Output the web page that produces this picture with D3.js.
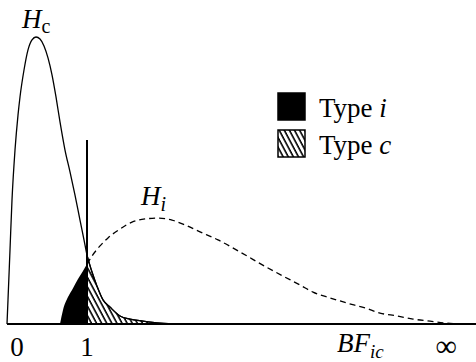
<!DOCTYPE html>
<html>
<head>
<meta charset="utf-8">
<script src="https://cdn.jsdelivr.net/npm/d3@7"></script>
<style>
  body { margin: 0; background: #fff; }
  text { font-family: "Liberation Serif", "Times New Roman", serif; fill: #000; }
</style>
</head>
<body>
<div id="chart"></div>
<script>
// densities, x in BF units, y relative to H_c peak
let hcX = [0, 0.0125, 0.0375, 0.0625, 0.1, 0.1375, 0.1625, 0.2125, 0.2625, 0.3125, 0.3625, 0.4125, 0.4625, 0.5125, 0.5625, 0.6125, 0.6625, 0.725, 0.7875, 0.85, 0.9125, 0.9625, 1.0, 1.0625, 1.125, 1.2, 1.2875, 1.4125, 1.5375, 1.7, 1.9125, 2.1625];
let hcY = [0, 0.084, 0.258, 0.432, 0.606, 0.728, 0.791, 0.885, 0.955, 0.99, 1.0, 0.993, 0.969, 0.927, 0.868, 0.791, 0.704, 0.606, 0.53, 0.449, 0.362, 0.293, 0.24, 0.181, 0.132, 0.084, 0.059, 0.028, 0.017, 0.01, 0.003, 0];

let hiX = [0.6625, 0.7, 0.7625, 0.825, 0.8875, 0.95, 1.0, 1.0625, 1.1625, 1.2625, 1.4125, 1.5625, 1.725, 1.8875, 2.0625, 2.225, 2.4125, 2.6375, 2.9125, 3.2625, 3.45, 3.6625, 3.825, 4.0375, 4.25, 4.475, 4.6625, 4.875, 5.075, 5.2875, 5.5, 5.75];
let hiY = [0, 0.049, 0.094, 0.125, 0.157, 0.185, 0.209, 0.237, 0.272, 0.3, 0.331, 0.355, 0.366, 0.369, 0.362, 0.345, 0.321, 0.293, 0.251, 0.195, 0.167, 0.136, 0.111, 0.091, 0.073, 0.056, 0.038, 0.028, 0.017, 0.01, 0.003, 0];

let threshold = 1;
let tickValues = [0.125, 1, 4.125, 5.49];
let tickLabels = ['0', '1', 'BF', '\u221e'];
let legendLabels = ['i', 'c'];

let width = 476, height = 362;

let x = d3.scaleLinear().domain([0, 5.8625]).range([7, 476]);
let y = d3.scaleLinear().domain([0, 1]).range([324, 37]);

let hc = hcX.map(function(v, i){ return [v, hcY[i]]; });
let hi = hiX.map(function(v, i){ return [v, hiY[i]]; });

let svg = d3.select('#chart').append('svg')
  .attr('width', width).attr('height', height);

let defs = svg.append('defs');
let pat = defs.append('pattern')
  .attr('id', 'hatch')
  .attr('patternUnits', 'userSpaceOnUse')
  .attr('width', 4.5).attr('height', 10)
  .attr('patternTransform', 'rotate(-28)');
pat.append('rect').attr('width', 4.5).attr('height', 10).attr('fill', '#fff');
pat.append('line')
  .attr('x1', 1).attr('y1', 0).attr('x2', 1).attr('y2', 10)
  .attr('stroke', '#000').attr('stroke-width', 1.6);

let line = d3.line()
  .x(function(d){ return x(d[0]); })
  .y(function(d){ return y(d[1]); })
  .curve(d3.curveMonotoneX);

let area = d3.area()
  .x(function(d){ return x(d[0]); })
  .y0(y(0))
  .y1(function(d){ return y(d[1]); })
  .curve(d3.curveMonotoneX);

// type i misclassified: H_i left of threshold
svg.append('path')
  .datum(hi.filter(function(d){ return d[0] <= threshold; }))
  .attr('d', area)
  .attr('fill', '#000');

// type c misclassified: H_c right of threshold
svg.append('path')
  .datum(hc.filter(function(d){ return d[0] >= threshold; }))
  .attr('d', area)
  .attr('fill', 'url(#hatch)')
  .attr('stroke', '#000').attr('stroke-width', 1.2);

svg.append('path')
  .datum(hc)
  .attr('d', line)
  .attr('fill', 'none')
  .attr('stroke', '#000').attr('stroke-width', 1.3);

svg.append('path')
  .datum(hi.filter(function(d){ return d[0] >= threshold; }))
  .attr('d', line)
  .attr('fill', 'none')
  .attr('stroke', '#000').attr('stroke-width', 1.3)
  .attr('stroke-dasharray', '6,4');

// threshold
svg.append('line')
  .attr('x1', x(threshold)).attr('x2', x(threshold))
  .attr('y1', 140).attr('y2', y(0))
  .attr('stroke', '#000').attr('stroke-width', 2);

// axis
svg.append('line')
  .attr('x1', x(0)).attr('x2', width)
  .attr('y1', y(0)).attr('y2', y(0))
  .attr('stroke', '#000').attr('stroke-width', 2);

let ticks = svg.selectAll('.tick')
  .data(tickValues)
  .enter().append('text')
  .attr('class', 'tick')
  .attr('x', function(d){ return x(d); })
  .attr('y', function(d, i){ return i == 2 ? 352 : 356; })
  .attr('font-size', function(d, i){ return i == 3 ? 30 : 27; })
  .attr('text-anchor', function(d, i){ return i == 2 ? 'start' : 'middle'; });
ticks.each(function(d, i){
  let t = d3.select(this);
  if (i == 2) {
    t.append('tspan').attr('font-style', 'italic').text(tickLabels[i]);
    t.append('tspan').attr('font-style', 'italic').attr('font-size', 19).attr('dy', 6).text('ic');
  } else {
    t.text(tickLabels[i]);
  }
});

// curve labels
let hcLabel = svg.append('text').attr('x', 22).attr('y', 28).attr('font-size', 27);
hcLabel.append('tspan').attr('font-style', 'italic').text('H');
hcLabel.append('tspan').attr('font-size', 20).attr('dy', 5).text('c');

let hiLabel = svg.append('text').attr('x', 141).attr('y', 205).attr('font-size', 27);
hiLabel.append('tspan').attr('font-style', 'italic').text('H');
hiLabel.append('tspan').attr('font-style', 'italic').attr('font-size', 20).attr('dy', 6).text('i');

// legend
let legend = svg.selectAll('.legend')
  .data(legendLabels)
  .enter().append('g')
  .attr('class', 'legend')
  .attr('transform', function(d, i){ return 'translate(278,' + (93 + i * 37) + ')'; });
legend.append('rect')
  .attr('width', 27).attr('height', 27)
  .attr('fill', function(d, i){ return i == 0 ? '#000' : 'url(#hatch)'; })
  .attr('stroke', '#000').attr('stroke-width', 1.5);
let lt = legend.append('text')
  .attr('x', 41).attr('y', 24)
  .attr('font-size', 27);
lt.append('tspan').text('Type ');
lt.append('tspan').attr('font-style', 'italic').text(function(d){ return d; });
</script>
</body>
</html>
